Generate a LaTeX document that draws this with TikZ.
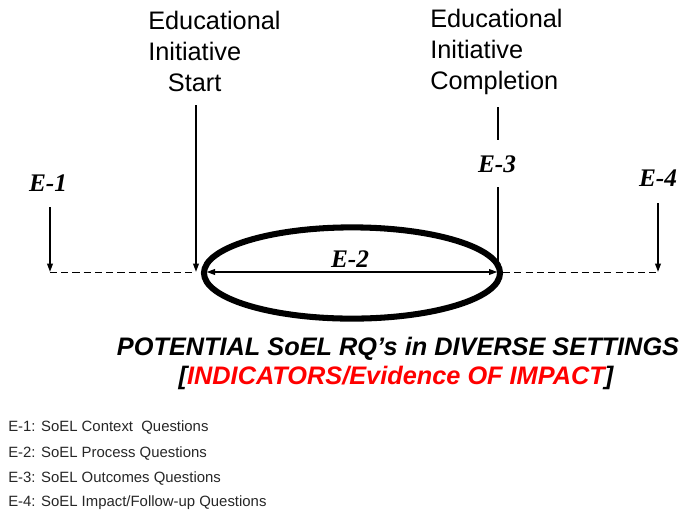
\documentclass[tikz,border=0pt]{standalone}
\usepackage{fontspec}
\setmainfont{Liberation Sans}
\newfontfamily\timesbi{Liberation Serif}
\usetikzlibrary{shapes.geometric,arrows.meta}
\tikzset{
  milestone/.style={align=left,inner sep=0pt,anchor=north west,font=\fontsize{18}{22}\selectfont},
  elabel/.style={inner sep=0pt,font=\timesbi\bfseries\itshape\fontsize{18}{20}\selectfont},
  arr/.style={line width=1.2pt,-{Triangle[length=6pt,width=4pt]}},
  twoway/.style={line width=1.2pt,{Triangle[length=6pt,width=4pt]}-{Triangle[length=6pt,width=4pt]}},
  dashline/.style={line width=0.6pt,dash pattern=on 5pt off 3pt},
  headline/.style={inner sep=0pt,font=\bfseries\itshape\fontsize{18}{20}\selectfont},
  legend/.style={inner sep=0pt,anchor=west,text=black!85,font=\fontsize{10.6}{12}\selectfont}
}
\begin{document}
\begin{tikzpicture}[x=0.025cm,y=-0.025cm]
\useasboundingbox (0,0) rectangle (686,516);

% time line
\node[milestone] (start) at (148,11) {Educational\\Initiative\\\hspace{14pt}Start};
\node[milestone] (compl) at (430,9) {Educational\\Initiative\\Completion};
\node[draw,ellipse,line width=4.3pt,minimum width=7.4cm,minimum height=2.28cm] (ell) at (352,273) {};

\node[elabel] (e1) at (48,183) {E-1};
\node[elabel] (e2) at (350,259) {E-2};
\node[elabel] (e3) at (497,164) {E-3};
\node[elabel] (e4) at (658,178) {E-4};

\coordinate (sa) at (196,105);
\coordinate (ca) at (498,107);
\coordinate (cb) at (498,140);
\coordinate (e1a) at (50,207);
\coordinate (e1b) at (50,272);
\coordinate (e3a) at (498,187);
\coordinate (e4a) at (658,203);
\coordinate (e4b) at (658,272);

\draw[arr] (sa) -- (sa |- e1b);
\draw[line width=1.2pt] (ca) -- (cb);
\draw[arr] (e3a) -- (e3a |- e4b);
\draw[arr] (e1a) -- (e1b);
\draw[arr] (e4a) -- (e4b);
\draw[twoway,shorten <=4pt,shorten >=4pt] (ell.west |- e1b) -- (ell.east |- e1b);
\draw[dashline] (e1b) -- (sa |- e1b);
\draw[dashline] (ell.east |- e4b) -- (e4b);

% headline
\node[headline] (ttl) at (398,349) {POTENTIAL SoEL RQ’s in DIVERSE SETTINGS};
\node[headline] (ind) at (396,378) {[\textcolor{red}{INDICATORS/Evidence OF IMPACT}]};

% legend
\node[legend] (l1) at (8,427) {E-1: SoEL Context\ \ Questions};
\node[legend] (l2) at (8,453) {E-2: SoEL Process Questions};
\node[legend] (l3) at (8,478) {E-3: SoEL Outcomes Questions};
\node[legend] (l4) at (8,503) {E-4: SoEL Impact/Follow-up Questions};
\end{tikzpicture}
\end{document}
